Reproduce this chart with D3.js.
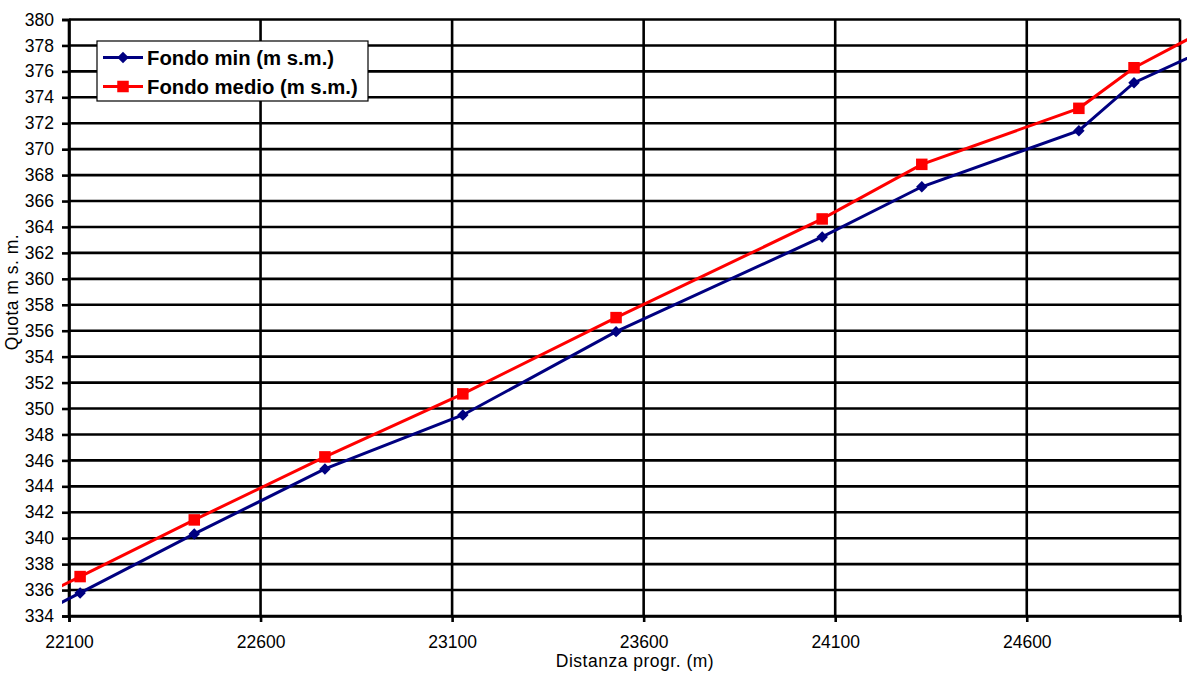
<!DOCTYPE html>
<html>
<head>
<meta charset="utf-8">
<script src="https://cdn.jsdelivr.net/npm/d3@7"></script>
<style>
  html, body { margin: 0; padding: 0; background: #fff; }
  svg { display: block; }
  text { font-family: Arial, "Liberation Sans", sans-serif; fill: #000; }
</style>
</head>
<body>
<svg id="chart" width="1190" height="682"></svg>
<script>
// ---- data ----
const distances = [21950, 22129, 22427, 22768, 23128, 23528, 24066, 24326, 24736, 24880, 25150];
const fondoMin   = [333.04, 335.78, 340.33, 345.34, 349.50, 355.93, 363.23, 367.10, 371.43, 375.13, 378.78];
const fondoMedio = [334.42, 337.04, 341.41, 346.27, 351.13, 357.01, 364.62, 368.83, 373.15, 376.28, 380.50];
const seriesNames = ["Fondo min (m s.m.)", "Fondo medio (m s.m.)"];
const xTicks = [22100, 22600, 23100, 23600, 24100, 24600];
const yTicks = d3.range(334, 381, 2);
const xTitle = "Distanza progr. (m)";
const yTitle = "Quota m s. m.";

// ---- layout ----
const W = 1190, H = 682;
const m = { left: 69, top: 19.5, right: 10, bottom: 66 };
const pw = 1180 - m.left, ph = 616 - m.top;
const FONT = "Arial, 'Liberation Sans', sans-serif";

const svg = d3.select("#chart");
const x = d3.scaleLinear().domain([22100, 25000]).range([m.left, m.left + pw]);
const y = d3.scaleLinear().domain([334, 380]).range([m.top + ph, m.top]);

// grid lines
const grid = svg.append("g");
grid.selectAll("line.h").data(yTicks).join("line")
  .attr("x1", x(22100)).attr("x2", x(25000))
  .attr("y1", d => y(d)).attr("y2", d => y(d))
  .attr("stroke", "#000").attr("stroke-width", 2.6);
grid.selectAll("line.v").data(xTicks.concat([25000])).join("line")
  .attr("y1", y(334)).attr("y2", y(380))
  .attr("x1", d => x(d)).attr("x2", d => x(d))
  .attr("stroke", "#000").attr("stroke-width", 2.6);

// y axis
const yAxis = svg.append("g").attr("transform", `translate(${m.left},0)`)
  .call(d3.axisLeft(y).tickValues(yTicks).tickSize(7).tickPadding(8).tickFormat(d3.format("d")));
yAxis.select(".domain").attr("stroke", "#000").attr("stroke-width", 2.6);
yAxis.selectAll(".tick line").attr("stroke", "#000").attr("stroke-width", 2.6);
yAxis.selectAll(".tick text").attr("font-size", 17.5).attr("font-family", FONT).attr("fill", "#000");

// x axis
const xAxis = svg.append("g").attr("transform", `translate(0,${m.top + ph})`)
  .call(d3.axisBottom(x).tickValues(xTicks).tickSize(6).tickPadding(14).tickFormat(d3.format("d")));
xAxis.select(".domain").attr("stroke", "#000").attr("stroke-width", 2.6);
xAxis.selectAll(".tick line").attr("stroke", "#000").attr("stroke-width", 2.6);
xAxis.selectAll(".tick text").attr("font-size", 17.5).attr("font-family", FONT).attr("fill", "#000");

// axis titles
svg.append("text").attr("x", 635).attr("y", 667).attr("text-anchor", "middle")
  .attr("font-size", 17.5).attr("letter-spacing", 0.5).text(xTitle);
svg.append("text").attr("transform", "translate(18,292) rotate(-90)").attr("text-anchor", "middle")
  .attr("font-size", 17.5).attr("letter-spacing", 0.5).text(yTitle);

// clip
svg.append("clipPath").attr("id", "clip").append("rect")
  .attr("x", 62).attr("y", 0).attr("width", 1187 - 62).attr("height", H);

const line = d3.line().x(d => x(d[0])).y(d => y(d[1]));
const minData = distances.map((d, i) => [d, fondoMin[i]]);
const medData = distances.map((d, i) => [d, fondoMedio[i]]);

const series = svg.append("g").attr("clip-path", "url(#clip)");
series.append("path").datum(minData).attr("d", line)
  .attr("fill", "none").attr("stroke", "#000080").attr("stroke-width", 3);
series.append("path").datum(medData).attr("d", line)
  .attr("fill", "none").attr("stroke", "#ff0000").attr("stroke-width", 3);

const inRange = d => d[0] >= 22100 && d[0] <= 25000;
const diamondSym = d3.symbol().type(d3.symbolSquare).size(66);
series.selectAll("path.dmin").data(minData.filter(inRange)).join("path")
  .attr("transform", d => `translate(${x(d[0])},${y(d[1])}) rotate(45)`)
  .attr("d", diamondSym).attr("fill", "#000080");
series.selectAll("rect.smed").data(medData.filter(inRange)).join("rect")
  .attr("x", d => x(d[0]) - 5.75).attr("y", d => y(d[1]) - 5.75)
  .attr("width", 11.5).attr("height", 11.5).attr("fill", "#ff0000");

// legend
const lg = svg.append("g");
lg.append("rect").attr("x", 97).attr("y", 41).attr("width", 271).attr("height", 60)
  .attr("fill", "#fff").attr("stroke", "#000").attr("stroke-width", 1.2);
const colors = ["#000080", "#ff0000"];
const rowsY = [57.5, 86.5];
seriesNames.forEach((name, i) => {
  lg.append("line").attr("x1", 103).attr("x2", 143).attr("y1", rowsY[i]).attr("y2", rowsY[i])
    .attr("stroke", colors[i]).attr("stroke-width", 3);
  if (i === 0) {
    lg.append("path").attr("transform", `translate(123,${rowsY[i]}) rotate(45)`)
      .attr("d", diamondSym).attr("fill", colors[i]);
  } else {
    lg.append("rect").attr("x", 117.25).attr("y", rowsY[i] - 5.75).attr("width", 11.5).attr("height", 11.5)
      .attr("fill", colors[i]);
  }
  lg.append("text").attr("x", 147).attr("y", rowsY[i]).attr("dy", "0.36em")
    .attr("font-size", 20.3).attr("font-weight", "bold").text(name);
});
</script>
</body>
</html>
